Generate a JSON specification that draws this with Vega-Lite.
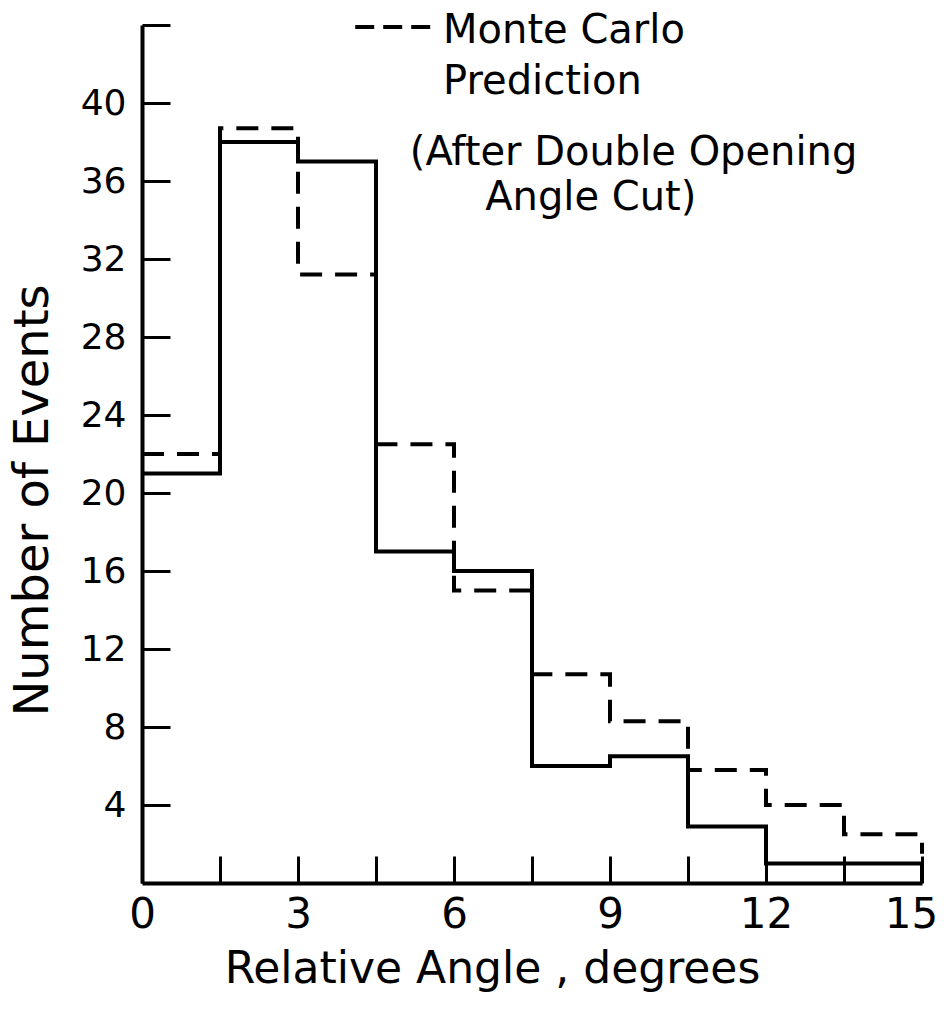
{
  "$schema": "https://vega.github.io/schema/vega-lite/v6.json",
  "width": 780,
  "height": 858,
  "autosize": {"type": "none"},
  "padding": {"left": 142, "top": 25, "right": 22, "bottom": 133},
  "background": "white",
  "config": {"view": {"stroke": null}, "font": "DejaVu Sans"},
  "datasets": {
    "hist": [
      {"series": "Data", "angle": 0, "count": 21, "i": 0},
      {"series": "Data", "angle": 1.5, "count": 38, "i": 1},
      {"series": "Data", "angle": 3, "count": 37, "i": 2},
      {"series": "Data", "angle": 4.5, "count": 17, "i": 3},
      {"series": "Data", "angle": 6, "count": 16, "i": 4},
      {"series": "Data", "angle": 7.5, "count": 6, "i": 5},
      {"series": "Data", "angle": 9, "count": 6.5, "i": 6},
      {"series": "Data", "angle": 10.5, "count": 2.9, "i": 7},
      {"series": "Data", "angle": 12, "count": 1, "i": 8},
      {"series": "Data", "angle": 13.5, "count": 1, "i": 9},
      {"series": "Data", "angle": 15, "count": 1, "i": 10},
      {"series": "Data", "angle": 15, "count": 0, "i": 11},
      {"series": "Monte Carlo", "angle": 0, "count": 22, "i": 0},
      {"series": "Monte Carlo", "angle": 1.5, "count": 38.7, "i": 1},
      {"series": "Monte Carlo", "angle": 3, "count": 31.2, "i": 2},
      {"series": "Monte Carlo", "angle": 4.5, "count": 22.5, "i": 3},
      {"series": "Monte Carlo", "angle": 6, "count": 15, "i": 4},
      {"series": "Monte Carlo", "angle": 7.5, "count": 10.7, "i": 5},
      {"series": "Monte Carlo", "angle": 9, "count": 8.3, "i": 6},
      {"series": "Monte Carlo", "angle": 10.5, "count": 5.8, "i": 7},
      {"series": "Monte Carlo", "angle": 12, "count": 4, "i": 8},
      {"series": "Monte Carlo", "angle": 13.5, "count": 2.5, "i": 9},
      {"series": "Monte Carlo", "angle": 15, "count": 2.5, "i": 10},
      {"series": "Monte Carlo", "angle": 15, "count": 1.5, "i": 11}
    ],
    "notes": [
      {"group": "key", "text": "Monte Carlo", "angle": 5.79, "count": 43.7},
      {"group": "key", "text": "Prediction", "angle": 5.79, "count": 41.1},
      {"group": "cut", "text": "(After Double Opening", "angle": 5.15, "count": 37.45},
      {"group": "cut", "text": "Angle Cut)", "angle": 6.6, "count": 35.15}
    ],
    "keyline": [
      {"angle": 4.1, "angle2": 5.55, "count": 43.9}
    ]
  },
  "layer": [
    {
      "data": {"name": "hist"},
      "transform": [{"filter": "datum.series === 'Monte Carlo'"}],
      "mark": {"type": "line", "interpolate": "step-after", "strokeDash": [22, 13], "strokeWidth": 4, "color": "black"},
      "encoding": {
        "x": {
          "field": "angle", "type": "quantitative",
          "scale": {"domain": [0, 15], "nice": false, "zero": false},
          "axis": {
            "values": [0, 1.5, 3, 4.5, 6, 7.5, 9, 10.5, 12, 13.5, 15],
            "labelExpr": "datum.value % 3 === 0 ? format(datum.value, 'd') : ''",
            "grid": false, "tickSize": -27, "tickWidth": 3, "tickColor": "black",
            "domainWidth": 4, "domainColor": "black",
            "labelFontSize": 42, "labelColor": "black", "labelPadding": 38, "labelFlush": false,
            "labelOffset": {"condition": {"test": "datum.value === 15", "value": -11}, "value": 0},
            "labelFont": "DejaVu Sans",
            "title": "Relative Angle , degrees", "titleFontSize": 44, "titleFontWeight": "normal",
            "titleFont": "DejaVu Sans", "titleColor": "black",
            "titleX": 350, "titleY": 99, "titleBaseline": "alphabetic", "titleAlign": "center"
          }
        },
        "y": {
          "field": "count", "type": "quantitative",
          "scale": {"domain": [0, 44], "nice": false},
          "axis": {
            "values": [4, 8, 12, 16, 20, 24, 28, 32, 36, 40, 44],
            "labelExpr": "datum.value < 44 ? format(datum.value, 'd') : ''",
            "grid": false, "tickSize": -28, "tickWidth": 3, "tickColor": "black",
            "domainWidth": 4, "domainColor": "black",
            "labelFontSize": 36, "labelColor": "black", "labelPadding": 44,
            "labelFont": "DejaVu Sans",
            "title": "Number of Events", "titleFontSize": 48, "titleFontWeight": "normal",
            "titleFont": "DejaVu Sans", "titleColor": "black",
            "titleX": -109, "titleY": 475, "titleAngle": -90, "titleAlign": "center", "titleBaseline": "middle"
          }
        },
        "order": {"field": "i", "type": "quantitative"}
      }
    },
    {
      "data": {"name": "hist"},
      "transform": [{"filter": "datum.series === 'Data'"}],
      "mark": {"type": "line", "interpolate": "step-after", "strokeWidth": 4, "color": "black"},
      "encoding": {
        "x": {"field": "angle", "type": "quantitative"},
        "y": {"field": "count", "type": "quantitative"},
        "order": {"field": "i", "type": "quantitative"}
      }
    },
    {
      "data": {"name": "keyline"},
      "mark": {"type": "rule", "strokeDash": [19, 9], "strokeWidth": 4, "color": "black"},
      "encoding": {
        "x": {"field": "angle", "type": "quantitative"},
        "x2": {"field": "angle2"},
        "y": {"field": "count", "type": "quantitative"}
      }
    },
    {
      "data": {"name": "notes"},
      "transform": [{"filter": "datum.group === 'key'"}],
      "mark": {"type": "text", "align": "left", "baseline": "middle", "fontSize": 40, "font": "DejaVu Sans", "color": "black"},
      "encoding": {
        "x": {"field": "angle", "type": "quantitative"},
        "y": {"field": "count", "type": "quantitative"},
        "text": {"field": "text"}
      }
    },
    {
      "data": {"name": "notes"},
      "transform": [{"filter": "datum.group === 'cut'"}],
      "mark": {"type": "text", "align": "left", "baseline": "middle", "fontSize": 40, "font": "DejaVu Sans", "color": "black"},
      "encoding": {
        "x": {"field": "angle", "type": "quantitative"},
        "y": {"field": "count", "type": "quantitative"},
        "text": {"field": "text"}
      }
    }
  ]
}
